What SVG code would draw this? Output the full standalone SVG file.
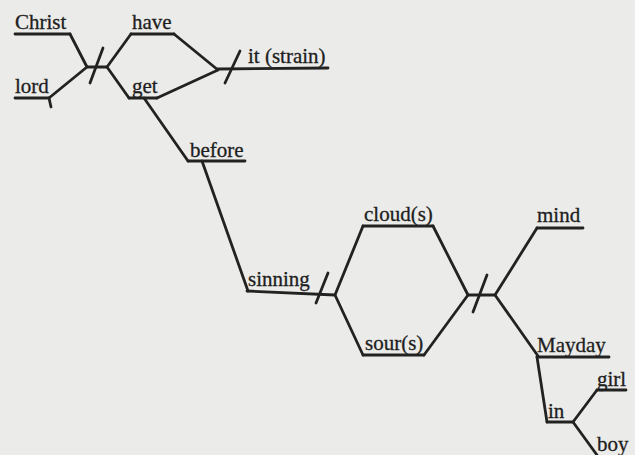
<svg xmlns="http://www.w3.org/2000/svg" width="635" height="455" viewBox="0 0 635 455">
<style>
.bg{fill:#ebebe9}
.ln{stroke:#222;stroke-width:2.8;fill:none;stroke-linecap:round;stroke-linejoin:round}
.t{font-family:"Liberation Serif","Times New Roman",serif;font-size:21px;fill:#1e1e1e;stroke:#1e1e1e;stroke-width:0.3}
</style>
<rect class="bg" x="0" y="0" width="635" height="455"/>
<g id="connectors" class="ln">
<polyline points="70,34 87,67 49,98"/>
<line x1="87" y1="67" x2="107" y2="67"/>
<line x1="103" y1="48" x2="90" y2="83"/>
<polyline points="131,34 107,67 129,98"/>
<polyline points="174,34 218,70 157,98"/>
<line x1="240" y1="51" x2="225" y2="83"/>
<line x1="144" y1="98" x2="188" y2="161"/>
<line x1="202" y1="161" x2="248" y2="291"/>
<line x1="328" y1="273" x2="316" y2="303"/>
<polyline points="363,226 335,295 363,355"/>
<polyline points="433,226 468,295 424,355"/>
<line x1="468" y1="295" x2="495" y2="295"/>
<line x1="487" y1="275" x2="473" y2="312"/>
<polyline points="537,228 495,295 538,356"/>
<line x1="537" y1="357" x2="547" y2="422"/>
<polyline points="597,390 573,422 597,455"/>
<line x1="49" y1="98" x2="51" y2="107"/>
</g>
<g id="n-christ"><line class="ln" x1="15" y1="34" x2="70" y2="34"/><text class="t" x="15" y="29">Christ</text></g>
<g id="n-lord"><line class="ln" x1="15" y1="98" x2="49" y2="98"/><text class="t" x="15" y="93">lord</text></g>
<g id="n-have"><line class="ln" x1="131" y1="34" x2="174" y2="34"/><text class="t" x="132" y="29">have</text></g>
<g id="n-get"><line class="ln" x1="129" y1="98" x2="157" y2="98"/><text class="t" x="132" y="93">get</text></g>
<g id="n-it"><line class="ln" x1="218" y1="69" x2="328" y2="68"/><text class="t" x="248" y="63">it (strain)</text></g>
<g id="n-before"><line class="ln" x1="188" y1="161" x2="245" y2="161"/><text class="t" x="190" y="157">before</text></g>
<g id="n-sinning"><line class="ln" x1="247" y1="291" x2="335" y2="295"/><text class="t" x="248" y="286">sinning</text></g>
<g id="n-clouds"><line class="ln" x1="363" y1="226" x2="433" y2="226"/><text class="t" x="364" y="221">cloud(s)</text></g>
<g id="n-sours"><line class="ln" x1="363" y1="355" x2="424" y2="355"/><text class="t" x="365" y="350">sour(s)</text></g>
<g id="n-mind"><line class="ln" x1="537" y1="228" x2="583" y2="228"/><text class="t" x="537" y="222">mind</text></g>
<g id="n-mayday"><line class="ln" x1="537" y1="357" x2="609" y2="357"/><text class="t" x="537" y="352">Mayday</text></g>
<g id="n-in"><line class="ln" x1="547" y1="422" x2="573" y2="422"/><text class="t" x="548" y="418">in</text></g>
<g id="n-girl"><line class="ln" x1="597" y1="390" x2="626" y2="390"/><text class="t" x="597" y="386">girl</text></g>
<g id="n-boy"><text class="t" x="597" y="451">boy</text></g>
</svg>
